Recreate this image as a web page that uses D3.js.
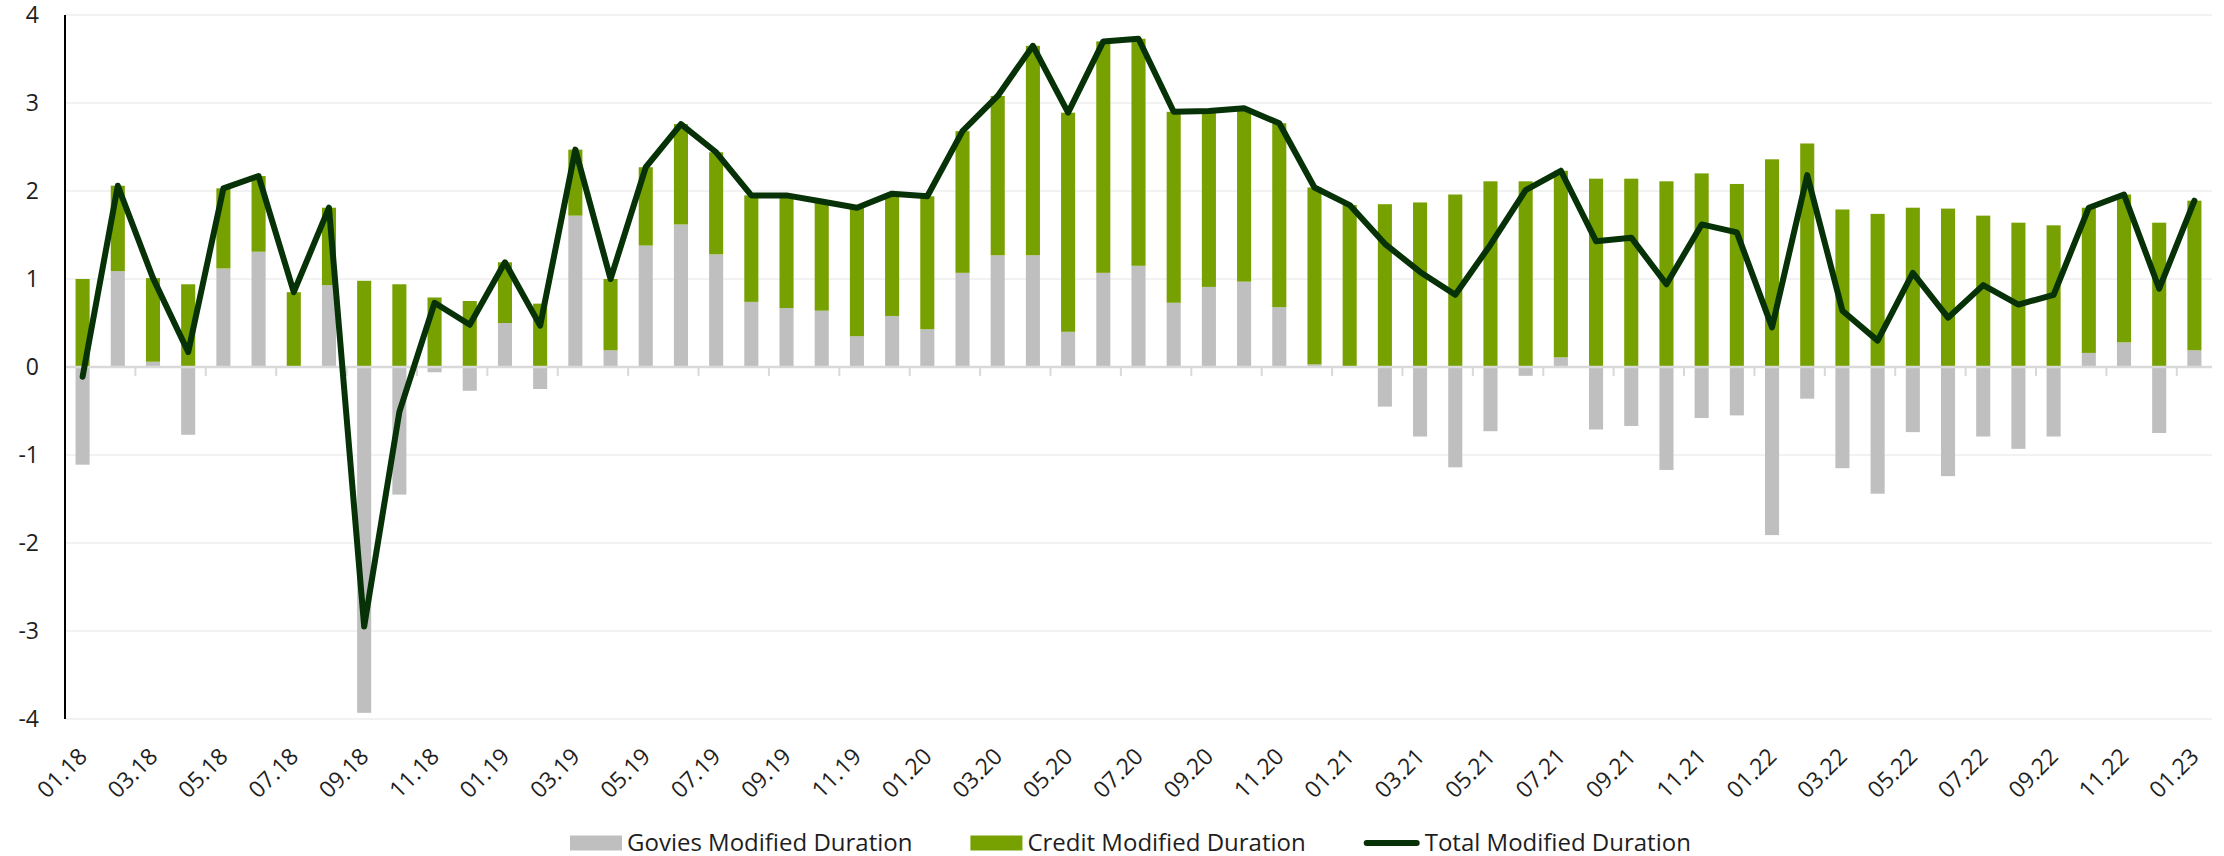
<!DOCTYPE html>
<html>
<head>
<meta charset="utf-8">
<script src="https://cdn.jsdelivr.net/npm/d3@7"></script>
<style>
  html, body { margin: 0; padding: 0; background: #fff; }
  svg { display: block; font-family: "Open Sans", sans-serif; }
</style>
</head>
<body>
<svg id="chart" width="2224" height="856"></svg>
<script>
// ---------------- DATA ----------------
const months = [
  "01.18","02.18","03.18","04.18","05.18","06.18","07.18","08.18","09.18","10.18","11.18","12.18",
  "01.19","02.19","03.19","04.19","05.19","06.19","07.19","08.19","09.19","10.19","11.19","12.19",
  "01.20","02.20","03.20","04.20","05.20","06.20","07.20","08.20","09.20","10.20","11.20","12.20",
  "01.21","02.21","03.21","04.21","05.21","06.21","07.21","08.21","09.21","10.21","11.21","12.21",
  "01.22","02.22","03.22","04.22","05.22","06.22","07.22","08.22","09.22","10.22","11.22","12.22",
  "01.23"
];

const goviesDuration = [
  -1.11, 1.09, 0.06, -0.77, 1.12, 1.31, 0.00, 0.93, -3.93, -1.45, -0.06, -0.27,
  0.50, -0.25, 1.72, 0.19, 1.38, 1.62, 1.28, 0.74, 0.67, 0.64, 0.35, 0.58,
  0.43, 1.07, 1.27, 1.27, 0.40, 1.07, 1.15, 0.73, 0.91, 0.97, 0.68, 0.03,
  0.00, -0.45, -0.79, -1.14, -0.73, -0.10, 0.11, -0.71, -0.67, -1.17, -0.58, -0.55,
  -1.91, -0.36, -1.15, -1.44, -0.74, -1.24, -0.79, -0.93, -0.79, 0.16, 0.28, -0.75,
  0.19
];

const creditDuration = [
  1.00, 0.97, 0.95, 0.94, 0.91, 0.86, 0.85, 0.88, 0.98, 0.94, 0.79, 0.75,
  0.69, 0.72, 0.75, 0.81, 0.89, 1.14, 1.16, 1.21, 1.28, 1.24, 1.46, 1.39,
  1.51, 1.61, 1.81, 2.38, 2.49, 2.63, 2.58, 2.17, 2.00, 1.97, 2.09, 2.01,
  1.84, 1.85, 1.87, 1.96, 2.11, 2.11, 2.12, 2.14, 2.14, 2.11, 2.20, 2.08,
  2.36, 2.54, 1.79, 1.74, 1.81, 1.80, 1.72, 1.64, 1.61, 1.65, 1.68, 1.64,
  1.70
];

const totalDuration = [
  -0.11, 2.06, 1.01, 0.17, 2.03, 2.17, 0.85, 1.81, -2.95, -0.51, 0.73, 0.48,
  1.19, 0.47, 2.47, 1.00, 2.27, 2.76, 2.44, 1.95, 1.95, 1.88, 1.81, 1.97,
  1.94, 2.68, 3.08, 3.65, 2.89, 3.70, 3.73, 2.90, 2.91, 2.94, 2.77, 2.04,
  1.84, 1.40, 1.08, 0.82, 1.39, 2.01, 2.23, 1.43, 1.47, 0.94, 1.62, 1.53,
  0.45, 2.18, 0.64, 0.30, 1.07, 0.56, 0.93, 0.71, 0.82, 1.81, 1.96, 0.89,
  1.89
];

const yTickValues = [-4, -3, -2, -1, 0, 1, 2, 3, 4];
const xTickLabels = months.filter((m, i) => i % 2 === 0);
const seriesNames = ["Govies Modified Duration", "Credit Modified Duration", "Total Modified Duration"];

// ---------------- STYLE / LAYOUT ----------------
const COLORS = { govies: "#bfbfbf", credit: "#76a100", total: "#073207" };
const plot = { left: 65, right: 2212, top: 15, bottom: 719 };
const FONT_SIZE = 23;
const LEGEND_FONT_SIZE = 24;
const TEXT_COLOR = "#1e1e1e";

const svg = d3.select("#chart");

// table for the stack
const table = months.map((m, i) => ({ month: m, govies: goviesDuration[i], credit: creditDuration[i] }));

const x = d3.scaleBand()
  .domain(months)
  .range([plot.left, plot.right])
  .paddingInner(0.6)
  .paddingOuter(0.3);

const y = d3.scaleLinear()
  .domain([-4, 4])
  .range([plot.bottom, plot.top]);

const step = x.step();

// gridlines
svg.append("g")
  .selectAll("line")
  .data(yTickValues.filter(v => v !== 0))
  .join("line")
  .attr("x1", plot.left)
  .attr("x2", plot.right)
  .attr("y1", d => y(d))
  .attr("y2", d => y(d))
  .attr("stroke", "#eeeeee")
  .attr("stroke-width", 1.6);

// stacked bars
const stack = d3.stack()
  .keys(["govies", "credit"])
  .offset(d3.stackOffsetDiverging);
const stacked = stack(table);

svg.append("g")
  .selectAll("g")
  .data(stacked)
  .join("g")
  .attr("fill", d => COLORS[d.key])
  .selectAll("rect")
  .data(d => d)
  .join("rect")
  .attr("x", d => x(d.data.month))
  .attr("width", x.bandwidth())
  .attr("y", d => y(Math.max(d[0], d[1])))
  .attr("height", d => Math.abs(y(d[0]) - y(d[1])));

// zero line
svg.append("line")
  .attr("x1", plot.left)
  .attr("x2", plot.right)
  .attr("y1", y(0))
  .attr("y2", y(0))
  .attr("stroke", "#d9d9d9")
  .attr("stroke-width", 2.5);

// small category ticks (at band boundaries before each labelled month)
svg.append("g")
  .selectAll("line")
  .data(xTickLabels.slice(1))
  .join("line")
  .attr("x1", d => x(d) - (step - x.bandwidth()) / 2)
  .attr("x2", d => x(d) - (step - x.bandwidth()) / 2)
  .attr("y1", y(0))
  .attr("y2", y(0) + 9)
  .attr("stroke", "#d9d9d9")
  .attr("stroke-width", 2);

// y axis line
svg.append("line")
  .attr("x1", plot.left)
  .attr("x2", plot.left)
  .attr("y1", plot.top)
  .attr("y2", plot.bottom)
  .attr("stroke", "#000")
  .attr("stroke-width", 2);

// y axis labels
const yAxis = svg.append("g")
  .attr("transform", `translate(${plot.left},0)`)
  .call(d3.axisLeft(y).tickValues(yTickValues).tickSize(0).tickPadding(26).tickFormat(d3.format("d")));
yAxis.select(".domain").remove();
yAxis.selectAll("text")
  .attr("font-family", "Open Sans")
  .attr("font-size", FONT_SIZE)
  .attr("fill", TEXT_COLOR)
  .text(d => String(d).replace("\u2212", "-"));

// x axis labels
const xAxis = svg.append("g")
  .attr("transform", `translate(0,${plot.bottom})`)
  .call(d3.axisBottom(x).tickValues(xTickLabels).tickSize(0));
xAxis.select(".domain").remove();
xAxis.selectAll("text")
  .attr("y", 0)
  .attr("dy", 0)
  .attr("transform", "translate(6,39) rotate(-45)")
  .style("text-anchor", "end")
  .attr("font-family", "Open Sans")
  .attr("font-size", FONT_SIZE)
  .attr("fill", TEXT_COLOR);

// total line
const line = d3.line()
  .x((d, i) => x(months[i]) + x.bandwidth() / 2)
  .y(d => y(d));

svg.append("path")
  .datum(totalDuration)
  .attr("d", line)
  .attr("fill", "none")
  .attr("stroke", COLORS.total)
  .attr("stroke-width", 6)
  .attr("stroke-linejoin", "round")
  .attr("stroke-linecap", "round");

// legend
const legend = svg.append("g").attr("font-family", "Open Sans").attr("font-size", LEGEND_FONT_SIZE);
let lx = 570;
const legendY = 843;
const legendKeys = ["govies", "credit", "total"];
seriesNames.forEach((name, i) => {
  const key = legendKeys[i];
  let tx;
  if (key === "total") {
    legend.append("line")
      .attr("x1", lx + 3).attr("x2", lx + 53)
      .attr("y1", legendY).attr("y2", legendY)
      .attr("stroke", COLORS.total).attr("stroke-width", 6).attr("stroke-linecap", "round");
    tx = lx + 61;
  } else {
    legend.append("rect")
      .attr("x", lx).attr("y", legendY - 7.5)
      .attr("width", 52).attr("height", 15)
      .attr("fill", COLORS[key]);
    tx = lx + 57;
  }
  const t = legend.append("text")
    .attr("x", tx)
    .attr("y", legendY + 8)
    .attr("fill", TEXT_COLOR)
    .text(name);
  lx = tx + t.node().getComputedTextLength() + 58;
});
</script>
</body>
</html>
